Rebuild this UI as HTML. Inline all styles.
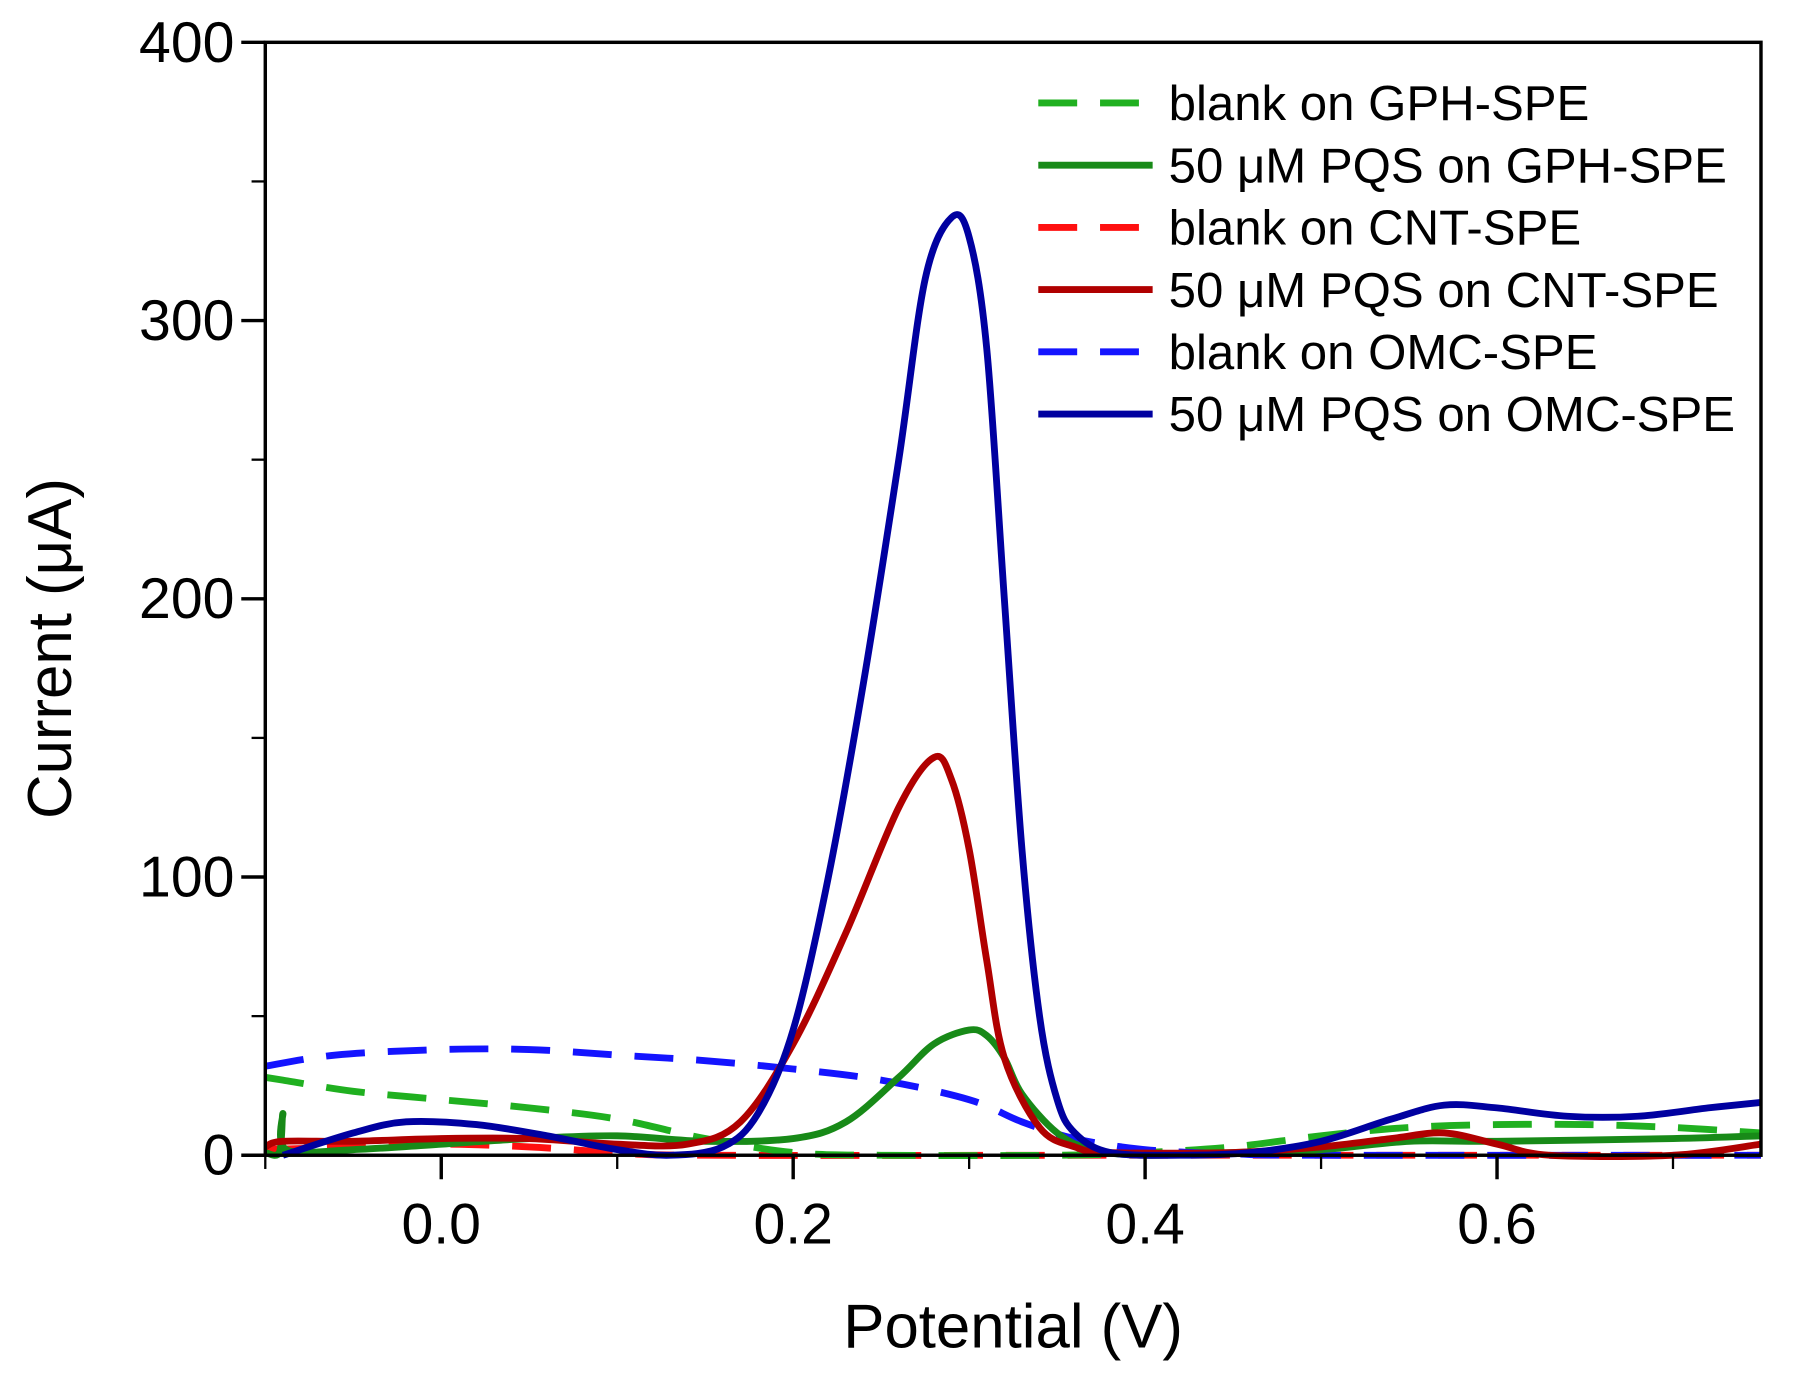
<!DOCTYPE html>
<html><head><meta charset="utf-8"><style>
html,body{margin:0;padding:0;background:#fff}
svg{display:block}
text{font-family:"Liberation Sans",sans-serif;fill:#000}
</style></head><body>
<svg width="1793" height="1376" viewBox="0 0 1568 1203" preserveAspectRatio="none">
<g id="marks"></g>
<rect x="232" y="37" width="1308" height="973" fill="none" stroke="#000" stroke-width="3"/>
<g id="axes"></g>
<text x="886" y="1178" font-size="54" text-anchor="middle">Potential (V)</text>
<text transform="translate(62,567) rotate(-90)" font-size="54" text-anchor="middle">Current (μA)</text>
<g id="legend"></g>
</svg>
<script>
const xTicks=[0.0,0.2,0.4,0.6];
const xTickLabels=["0.0","0.2","0.4","0.6"];
const xMinor=[-0.1,0.1,0.3,0.5,0.7];
const yTicks=[0,100,200,300,400];
const yMinor=[50,150,250,350];
const seriesNames=["blank on GPH-SPE","50 μM PQS on GPH-SPE","blank on CNT-SPE","50 μM PQS on CNT-SPE","blank on OMC-SPE","50 μM PQS on OMC-SPE"];
const seriesColors=["#20b020","#188a18","#ff1010","#b00000","#1414ff","#0000a0"];
const seriesDashed=[true,false,true,false,true,false];
const gphBlank=[[-0.1,28],[-0.09,27],[-0.05,23],[0,20],[0.05,17],[0.1,13],[0.15,6],[0.2,1],[0.25,0],[0.35,0],[0.4,1],[0.45,3],[0.5,7],[0.55,10],[0.6,11],[0.65,11],[0.7,10],[0.75,8]];
const gphPqs=[[-0.1,1],[-0.092,1],[-0.09,15],[-0.088,2],[-0.05,2],[0,4],[0.05,6],[0.1,7],[0.15,5],[0.2,6],[0.23,12],[0.26,28],[0.28,40],[0.3,45],[0.31,43],[0.32,35],[0.33,22],[0.35,8],[0.37,2],[0.4,0],[0.45,1],[0.5,2],[0.55,5],[0.6,5],[0.7,6],[0.75,7]];
const cntBlank=[[-0.1,2],[-0.05,3],[0,4],[0.05,3],[0.1,1],[0.15,0],[0.4,0],[0.75,0]];
const cntPqs=[[-0.1,3],[-0.09,5],[-0.05,5],[0,6],[0.05,6],[0.1,4],[0.14,4],[0.17,12],[0.2,40],[0.23,80],[0.26,125],[0.28,143],[0.29,135],[0.3,110],[0.31,70],[0.32,35],[0.34,10],[0.36,3],[0.38,1],[0.45,1],[0.5,3],[0.54,6],[0.57,8],[0.6,4],[0.63,0],[0.7,0],[0.75,4]];
const omcBlank=[[-0.1,32],[-0.06,36],[0,38],[0.05,38],[0.1,36],[0.15,34],[0.2,31],[0.25,27],[0.3,20],[0.33,12],[0.36,6],[0.4,2],[0.45,0.5],[0.5,0],[0.75,0]];
const omcPqs=[[-0.09,0],[-0.05,8],[-0.02,12],[0.02,11],[0.06,7],[0.1,2],[0.13,0],[0.16,3],[0.18,15],[0.2,45],[0.22,100],[0.24,170],[0.26,250],[0.275,315],[0.29,337],[0.3,330],[0.31,290],[0.32,200],[0.33,110],[0.34,50],[0.35,20],[0.36,8],[0.38,1],[0.42,0],[0.46,1],[0.5,5],[0.54,13],[0.57,18],[0.6,17],[0.64,14],[0.68,14],[0.72,17],[0.75,19]];
const allSeries=[gphBlank,gphPqs,cntBlank,cntPqs,omcBlank,omcPqs];
const NS="http://www.w3.org/2000/svg";
const X0=-0.1,X1=0.75,Y0=0,Y1=400,L=232,R=1540,T=37,B=1010;
const sx=v=>L+(v-X0)/(X1-X0)*(R-L);
const sy=v=>B-(v-Y0)/(Y1-Y0)*(B-T);
function mk(t,a,p){const e=document.createElementNS(NS,t);for(const k in a)e.setAttribute(k,a[k]);p.appendChild(e);return e;}
function smooth(pts){
 const P=pts.map(p=>[sx(p[0]),sy(p[1])]);
 let d='M'+P[0][0].toFixed(1)+','+P[0][1].toFixed(1);
 for(let i=0;i<P.length-1;i++){
  const p0=P[Math.max(0,i-1)],p1=P[i],p2=P[i+1],p3=P[Math.min(P.length-1,i+2)];
  const c1=[p1[0]+(p2[0]-p0[0])/6,p1[1]+(p2[1]-p0[1])/6];
  const c2=[p2[0]-(p3[0]-p1[0])/6,p2[1]-(p3[1]-p1[1])/6];
  d+=' C'+c1.map(v=>v.toFixed(1)).join(',')+' '+c2.map(v=>v.toFixed(1)).join(',')+' '+p2.map(v=>v.toFixed(1)).join(',');
 }
 return d;
}
const axes=document.getElementById('axes');
xTicks.forEach((v,i)=>{
 const l=mk('line',{x1:sx(v),x2:sx(v),y1:B,y2:B+21,stroke:'#000','stroke-width':3},axes);
 
 
 const t=mk('text',{x:sx(v),y:1087,'font-size':50,'text-anchor':'middle'},axes);t.textContent=xTickLabels[i];
 
 
});
xMinor.forEach(v=>{
 const l=mk('line',{x1:sx(v),x2:sx(v),y1:B,y2:B+12,stroke:'#000','stroke-width':2},axes);
 
 
});
yTicks.forEach(v=>{
 const l=mk('line',{x1:L-21,x2:L,y1:sy(v),y2:sy(v),stroke:'#000','stroke-width':3},axes);
 
 
 const t=mk('text',{x:205,y:sy(v)+17,'font-size':50,'text-anchor':'end'},axes);t.textContent=String(v);
 
 
});
yMinor.forEach(v=>{
 const l=mk('line',{x1:L-12,x2:L,y1:sy(v),y2:sy(v),stroke:'#000','stroke-width':2},axes);
 
 
});
const marks=document.getElementById('marks');
const order=[2,0,4,1,3,5];
order.forEach(i=>{
 const a={d:smooth(allSeries[i]),fill:'none',stroke:seriesColors[i],'stroke-width':6,'stroke-linejoin':'round'};
 if(seriesDashed[i])a['stroke-dasharray']='34 20';
 const p=mk('path',a,marks);
 
 
});
const leg=document.getElementById('legend');
seriesNames.forEach((n,i)=>{
 const y=90+i*54.4;
 const a={x1:908,x2:1008,y1:y,y2:y,stroke:seriesColors[i],'stroke-width':6};
 if(seriesDashed[i])a['stroke-dasharray']='34 20';
 const l=mk('line',a,leg);
 
 
 const t=mk('text',{x:1022,y:y+15,'font-size':43},leg);t.textContent=n;
 
 
});
</script>
</body></html>
